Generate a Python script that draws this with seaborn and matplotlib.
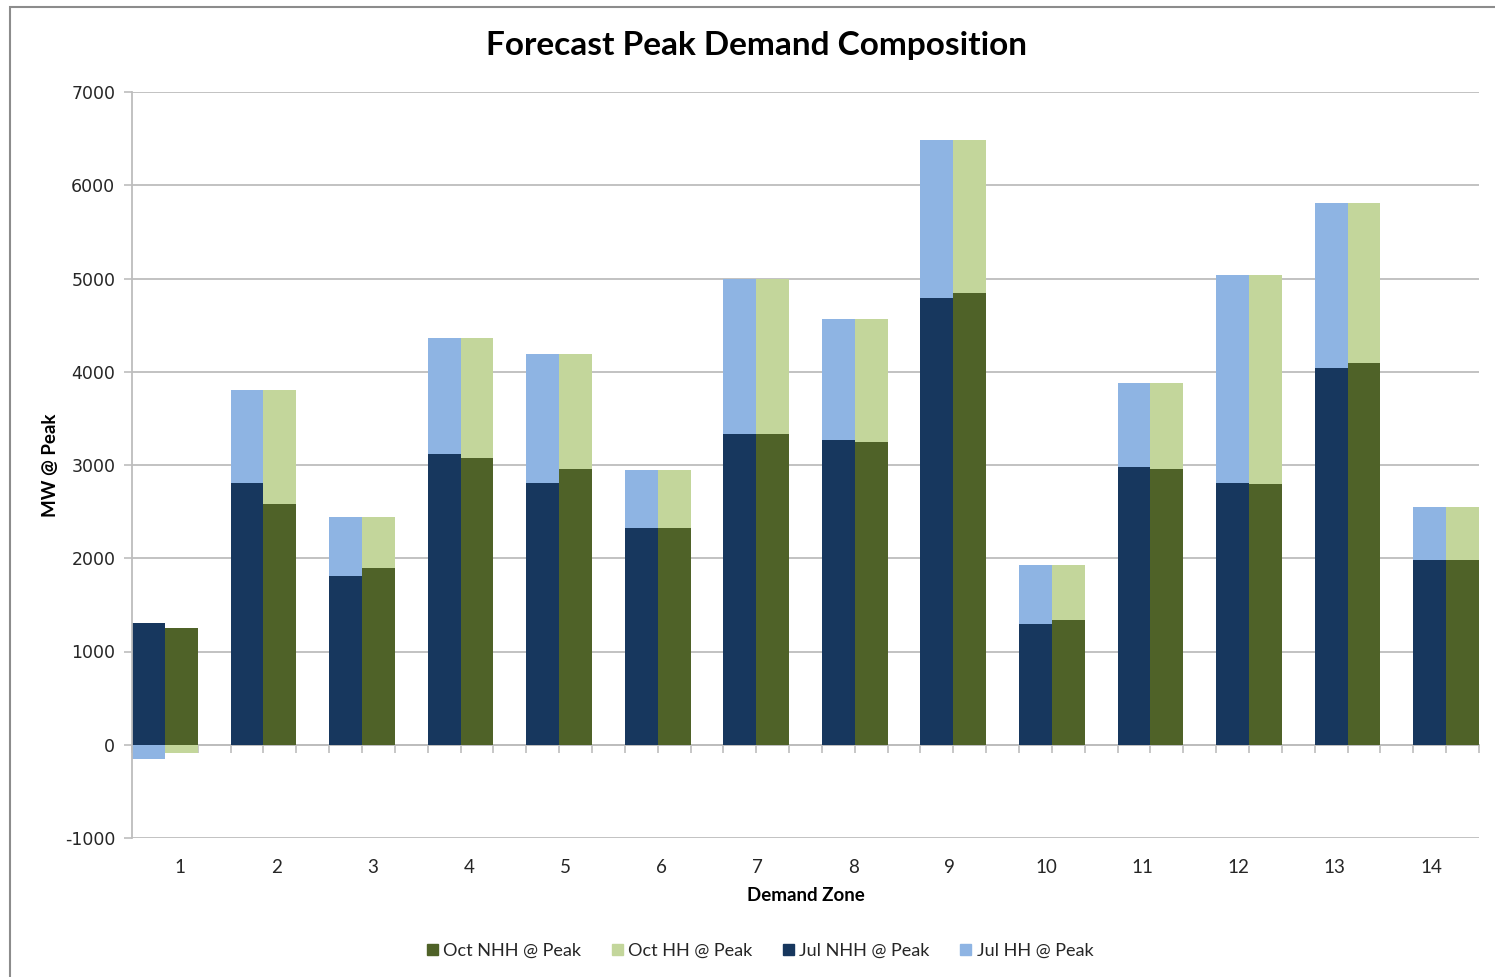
import numpy as np
import pandas as pd
import seaborn as sns
import matplotlib.pyplot as plt
from matplotlib.patches import Patch, Rectangle

# values (MW @ peak)
zones = ['1', '2', '3', '4', '5', '6', '7', '8', '9', '10', '11', '12', '13', '14']
jul_nhh = [1310, 2805, 1815, 3120, 2805, 2320, 3335, 3265, 4795, 1300, 2975, 2805, 4040, 1980]
jul_hh = [-150, 1000, 625, 1245, 1390, 630, 1665, 1305, 1685, 625, 905, 2230, 1765, 570]
oct_nhh = [1250, 2580, 1900, 3070, 2955, 2320, 3335, 3245, 4845, 1340, 2960, 2795, 4090, 1985]
oct_hh = [-85, 1225, 540, 1295, 1240, 630, 1665, 1325, 1635, 585, 920, 2240, 1715, 565]
y_ticks = [-1000, 0, 1000, 2000, 3000, 4000, 5000, 6000, 7000]

c_jul_nhh = '#17375E'
c_jul_hh = '#8EB4E3'
c_oct_nhh = '#4F6228'
c_oct_hh = '#C3D69B'

sns.set_style("white")
plt.rcParams['font.family'] = ['DejaVu Sans']
plt.rcParams['axes.unicode_minus'] = False
narrow = ['Lato', 'DejaVu Sans']

# each zone takes three slots: Jul bar, Oct bar, gap
n = len(zones)
jul_pos = np.arange(n) * 3 + 0.5
oct_pos = np.arange(n) * 3 + 1.5

df = pd.DataFrame({'zone': zones, 'jul_pos': jul_pos, 'oct_pos': oct_pos,
                   'jul_nhh': jul_nhh, 'jul_hh': jul_hh,
                   'oct_nhh': oct_nhh, 'oct_hh': oct_hh})
# negative HH values stack down from zero, positive ones on top of NHH
df['jul_base'] = np.where(df['jul_hh'] >= 0, df['jul_nhh'], 0)
df['oct_base'] = np.where(df['oct_hh'] >= 0, df['oct_nhh'], 0)

fig = plt.figure(figsize=(14.95, 9.77), dpi=100)
ax = fig.add_axes([132 / 1495, 1 - 838 / 977, (1479 - 132) / 1495, (838 - 92) / 977])

grid_c = '#BDBDBD'
ax.set_axisbelow(True)
ax.yaxis.grid(True, color=grid_c, linewidth=1.3)

bar_kw = dict(native_scale=True, width=1 / 3, errorbar=None, saturation=1, linewidth=0, ax=ax)
sns.barplot(data=df, x='jul_pos', y='jul_nhh', color=c_jul_nhh, **bar_kw)
sns.barplot(data=df, x='jul_pos', y='jul_hh', color=c_jul_hh, bottom=df['jul_base'].values, **bar_kw)
sns.barplot(data=df, x='oct_pos', y='oct_nhh', color=c_oct_nhh, **bar_kw)
sns.barplot(data=df, x='oct_pos', y='oct_hh', color=c_oct_hh, bottom=df['oct_base'].values, **bar_kw)

ax.set_xlim(0, 3 * n - 1)
ax.set_ylim(-1000, 7000)
ax.set_yticks(y_ticks)
ax.set_yticklabels([str(v) for v in y_ticks], fontsize=12.5, color='#262626')
ax.tick_params(axis='y', left=True, length=6, width=1.2, color=grid_c, pad=6)

# zone labels sit at the centres of 14 equal divisions of the axis
ax.set_xticks((np.arange(n) + 0.5) * (3 * n - 1) / n)
ax.set_xticklabels(zones, fontsize=13.5, color='#262626', family=narrow)
ax.tick_params(axis='x', bottom=False, length=0, pad=15)

for s in ['top', 'right', 'bottom']:
    ax.spines[s].set_visible(False)
ax.spines['left'].set_color(grid_c)
ax.spines['left'].set_linewidth(1.3)

# category axis line at zero with a tick at each slot boundary
zero_frac = (0 - (-1000)) / 8000
sec = ax.secondary_xaxis(zero_frac)
sec.set_xticks(np.arange(0, 3 * n))
sec.set_xticklabels([])
sec.tick_params(axis='x', direction='out', length=6, width=1.2, color=grid_c)
sec.spines['bottom'].set_color(grid_c)
sec.spines['bottom'].set_linewidth(1.3)

ax.set_xlabel('Demand Zone', fontsize=13.5, fontweight='bold', labelpad=8,
              family=narrow, color='black')
ax.set_ylabel('MW @ Peak', fontsize=13.5, fontweight='bold', labelpad=4,
              family=narrow, color='black')

fig.text(756 / 1495, 1 - 46 / 977, 'Forecast Peak Demand Composition', ha='center', va='center',
         fontsize=24, fontweight='bold', family=narrow, color='black')

handles = [Patch(color=c_oct_nhh), Patch(color=c_oct_hh), Patch(color=c_jul_nhh), Patch(color=c_jul_hh)]
labels = ['Oct NHH @ Peak', 'Oct HH @ Peak', 'Jul NHH @ Peak', 'Jul HH @ Peak']
fig.legend(handles, labels, loc='center', bbox_to_anchor=(760 / 1495, 1 - 951 / 977), ncol=4,
           frameon=False, handlelength=0.6, handleheight=0.6, handletextpad=0.3,
           columnspacing=1.7, prop={'family': narrow, 'size': 13})

# chart frame
fig.add_artist(Rectangle((10 / 1495, -0.1), 1.2, 1.1 - 7 / 977, transform=fig.transFigure,
                         fill=False, edgecolor='#8C8C8C', linewidth=1.5))

fig.savefig('out.png', dpi=100)
